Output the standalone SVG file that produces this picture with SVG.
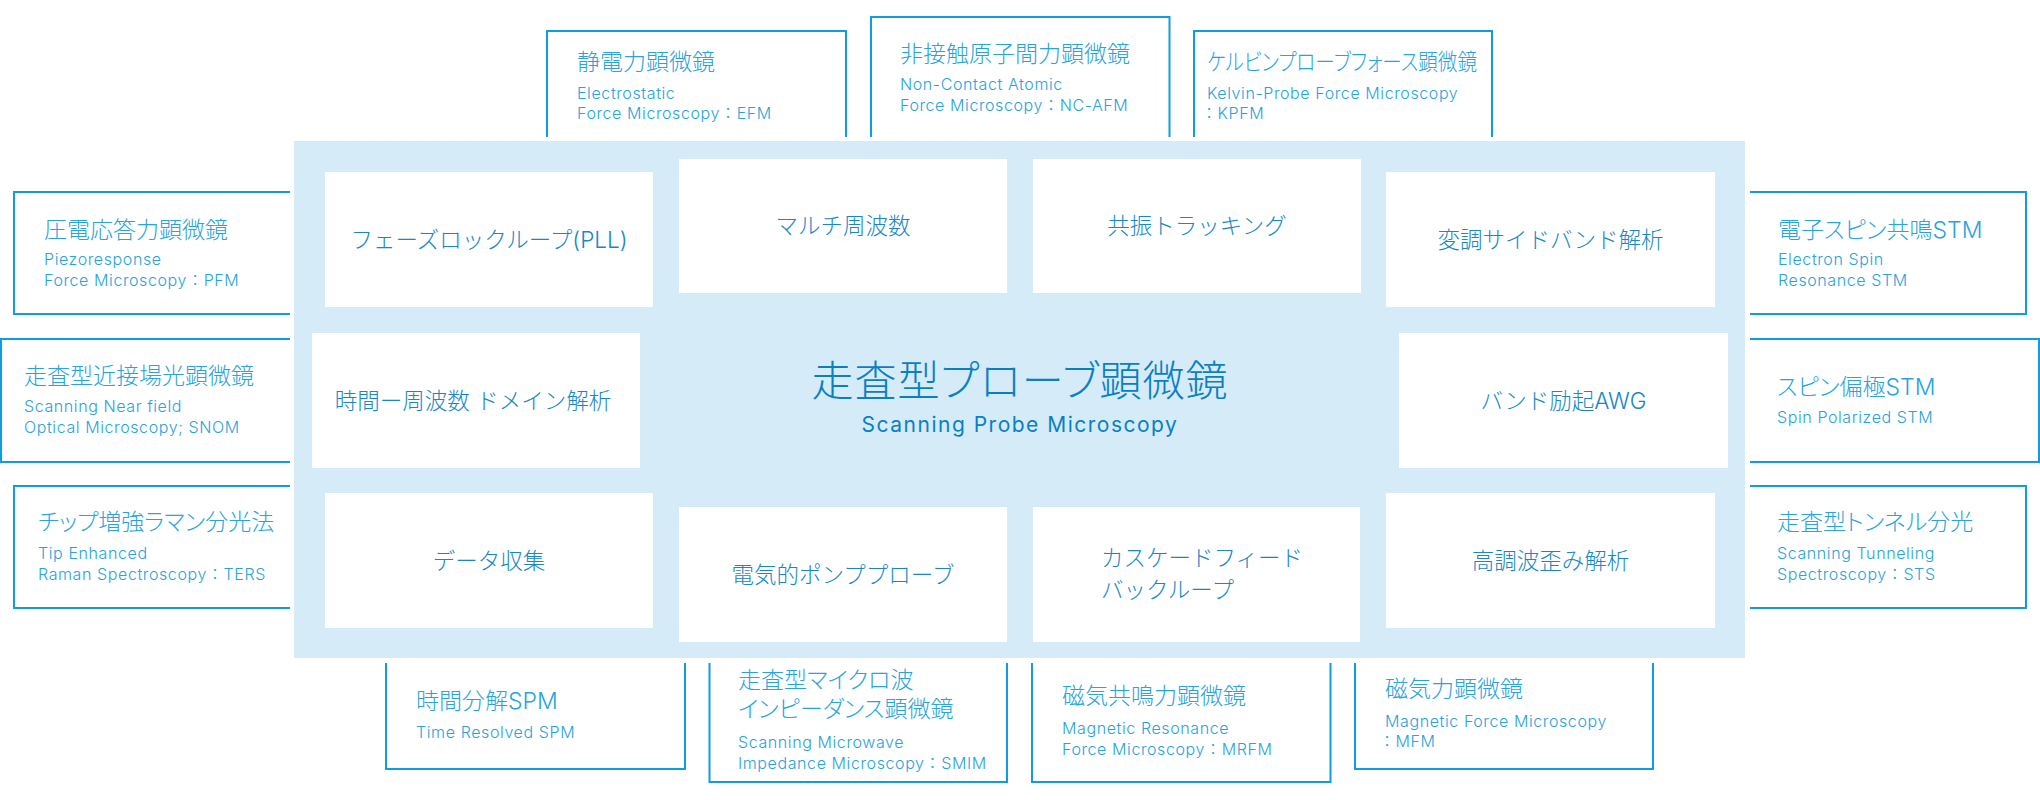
<svg xmlns="http://www.w3.org/2000/svg" width="2040" height="800" viewBox="0 0 2040 800">
<style>
.bg{fill:#ffffff}
.panel{fill:#d5ebf8}
.card{fill:#ffffff}
.frame{fill:none;stroke:#0e9ddf;stroke-width:2}
text{font-family:"Inter","Noto Sans CJK JP",sans-serif;font-weight:300}
.ot{fill:#27a3dd;font-size:23px;font-feature-settings:"palt"}
.oe{fill:#27a3dd;font-size:16px;letter-spacing:0.6px}
.it{fill:#1787c8;font-size:22.5px;text-anchor:middle}
.il{fill:#1787c8;font-size:22.5px}
.ct{fill:#0a80c4;font-size:42px;letter-spacing:1px;text-anchor:middle;font-feature-settings:"palt"}
.ce{fill:#0a80c4;font-size:21px;letter-spacing:1.5px;text-anchor:middle;font-weight:400}
</style>
<rect class="bg" x="0" y="0" width="2040" height="800"/>

<g id="outer-pfm">
<path class="frame" d="M290,192 H14 V314 H290"/>
<text class="ot" x="44" y="237.5">圧電応答力顕微鏡</text>
<text class="oe" x="44" y="265">Piezoresponse</text>
<text class="oe" x="44" y="286">Force Microscopy：PFM</text>
</g>
<g id="outer-snom">
<path class="frame" d="M290,339 H1 V462 H290"/>
<text class="ot" x="24" y="384">走査型近接場光顕微鏡</text>
<text class="oe" x="24" y="412">Scanning Near field</text>
<text class="oe" x="24" y="433">Optical Microscopy; SNOM</text>
</g>
<g id="outer-ters">
<path class="frame" d="M290,486 H14 V608 H290"/>
<text class="ot" x="38" y="530">チップ増強ラマン分光法</text>
<text class="oe" x="38" y="559">Tip Enhanced</text>
<text class="oe" x="38" y="580">Raman Spectroscopy：TERS</text>
</g>
<g id="outer-efm">
<path class="frame" d="M547,137 V31 H846 V137"/>
<text class="ot" x="577" y="70">静電力顕微鏡</text>
<text class="oe" x="577" y="99">Electrostatic</text>
<text class="oe" x="577" y="119">Force Microscopy：EFM</text>
</g>
<g id="outer-ncafm">
<path class="frame" d="M871,137 V17 H1169.5 V137"/>
<text class="ot" x="900" y="62">非接触原子間力顕微鏡</text>
<text class="oe" x="900" y="90">Non-Contact Atomic</text>
<text class="oe" x="900" y="111">Force Microscopy：NC-AFM</text>
</g>
<g id="outer-kpfm">
<path class="frame" d="M1194,137 V31 H1492 V137"/>
<text class="ot" x="1207" y="70" textLength="270" lengthAdjust="spacingAndGlyphs">ケルビンプローブフォース顕微鏡</text>
<text class="oe" x="1207" y="99">Kelvin-Probe Force Microscopy</text>
<text class="oe" x="1201" y="119">：KPFM</text>
</g>
<g id="outer-esr">
<path class="frame" d="M1750,192 H2026 V314 H1750"/>
<text class="ot" x="1778" y="237.5">電子スピン共鳴STM</text>
<text class="oe" x="1778" y="265">Electron Spin</text>
<text class="oe" x="1778" y="286">Resonance STM</text>
</g>
<g id="outer-sp">
<path class="frame" d="M1750,339 H2039 V462 H1750"/>
<text class="ot" x="1777" y="395">スピン偏極STM</text>
<text class="oe" x="1777" y="423">Spin Polarized STM</text>
</g>
<g id="outer-sts">
<path class="frame" d="M1750,486 H2026 V608 H1750"/>
<text class="ot" x="1777" y="530">走査型トンネル分光</text>
<text class="oe" x="1777" y="559">Scanning Tunneling</text>
<text class="oe" x="1777" y="580">Spectroscopy：STS</text>
</g>
<g id="outer-trspm">
<path class="frame" d="M386,663 V769 H685 V663"/>
<text class="ot" x="416" y="709">時間分解SPM</text>
<text class="oe" x="416" y="738">Time Resolved SPM</text>
</g>
<g id="outer-smim">
<path class="frame" d="M709.5,663 V782 H1007 V663"/>
<text class="ot" x="738" y="688">走査型マイクロ波</text>
<text class="ot" x="738" y="717">インピーダンス顕微鏡</text>
<text class="oe" x="738" y="748">Scanning Microwave</text>
<text class="oe" x="738" y="769">Impedance Microscopy：SMIM</text>
</g>
<g id="outer-mrfm">
<path class="frame" d="M1032,663 V782 H1330.5 V663"/>
<text class="ot" x="1062" y="704">磁気共鳴力顕微鏡</text>
<text class="oe" x="1062" y="734">Magnetic Resonance</text>
<text class="oe" x="1062" y="755">Force Microscopy：MRFM</text>
</g>
<g id="outer-mfm">
<path class="frame" d="M1355,663 V769 H1653 V663"/>
<text class="ot" x="1385" y="697">磁気力顕微鏡</text>
<text class="oe" x="1385" y="727">Magnetic Force Microscopy</text>
<text class="oe" x="1379" y="747">：MFM</text>
</g>

<g id="spm-panel">
<rect class="panel" x="294" y="141" width="1451" height="517"/>
<text class="ct" x="1020" y="396">走査型プローブ顕微鏡</text>
<text class="ce" x="1020" y="431.5">Scanning Probe Microscopy</text>
</g>

<g id="pll"><rect class="card" x="325" y="172" width="328" height="135"/><text class="it" x="489" y="247.5">フェーズロックループ(PLL)</text></g>
<g id="multifreq"><rect class="card" x="679" y="159" width="328" height="134"/><text class="it" x="843" y="234">マルチ周波数</text></g>
<g id="restrack"><rect class="card" x="1033" y="159" width="328" height="134"/><text class="it" x="1197" y="234">共振トラッキング</text></g>
<g id="sideband"><rect class="card" x="1386" y="172" width="329" height="135"/><text class="it" x="1550.5" y="247.5">変調サイドバンド解析</text></g>
<g id="timefreq"><rect class="card" x="312" y="333" width="328" height="135"/><text class="it" x="473" y="408.5">時間ー周波数 ドメイン解析</text></g>
<g id="awg"><rect class="card" x="1399" y="333" width="329" height="135"/><text class="it" x="1563.5" y="408.5">バンド励起AWG</text></g>
<g id="daq"><rect class="card" x="325" y="493" width="328" height="135"/><text class="it" x="489" y="568.5">データ収集</text></g>
<g id="pumpprobe"><rect class="card" x="679" y="507" width="328" height="135"/><text class="it" x="843" y="582.5">電気的ポンププローブ</text></g>
<g id="cascade"><rect class="card" x="1033" y="507" width="327" height="135"/><text class="il" x="1101" y="566">カスケードフィード</text><text class="il" x="1101" y="598">バックループ</text></g>
<g id="harmonic"><rect class="card" x="1386" y="493" width="329" height="135"/><text class="it" x="1550.5" y="568.5">高調波歪み解析</text></g>
</svg>
